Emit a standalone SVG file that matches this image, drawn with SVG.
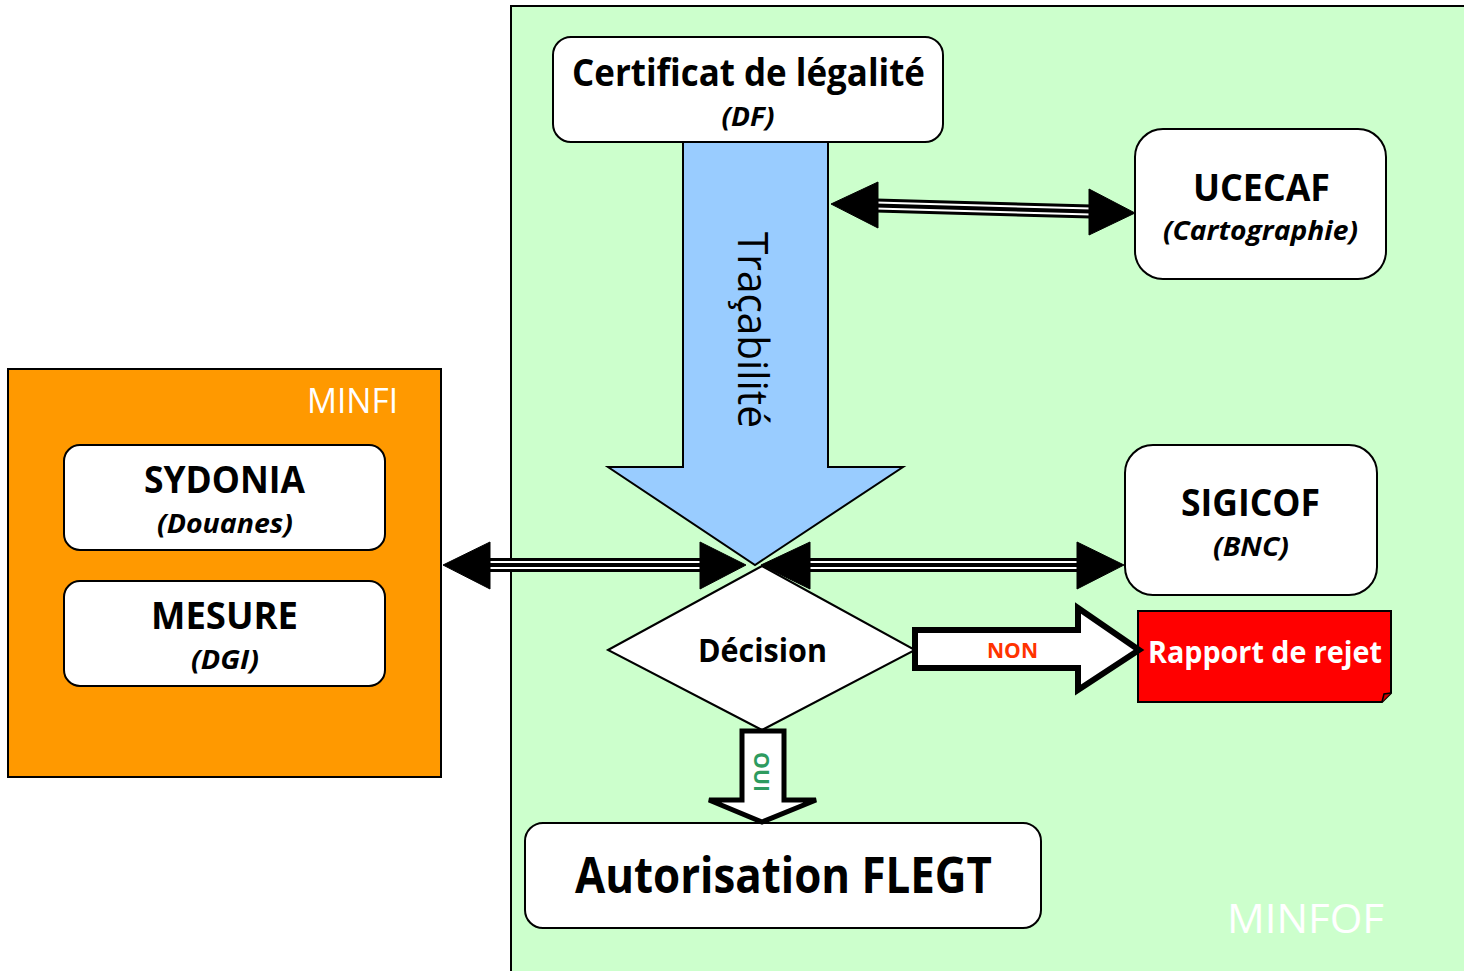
<svg xmlns="http://www.w3.org/2000/svg" width="1464" height="971" viewBox="0 0 1464 971">
<style>
text{font-family:"Open Sans","Noto Sans","Liberation Sans",sans-serif;}
.box{fill:#fff;stroke:#000;stroke-width:2}
.t{font-weight:bold;font-size:38px;fill:#000;text-anchor:middle}
.s{font-weight:bold;font-style:italic;font-size:27px;fill:#000;text-anchor:middle}
.lbl{font-size:40px;fill:#fff;text-anchor:middle}
.c1{stroke:#000;stroke-width:14;fill:none}
.c2{stroke:#fff;stroke-width:8;fill:none}
.c3{stroke:#000;stroke-width:4;fill:none}
.ah{fill:#000;stroke:#000;stroke-width:1}
</style>
<rect x="0" y="0" width="1464" height="971" fill="#fff"/>
<g id="minfof">
<rect x="511" y="6" width="1000" height="1000" fill="#CCFFCC" stroke="#000" stroke-width="2"/>
<text class="lbl" x="1305.5" y="933" textLength="157" lengthAdjust="spacingAndGlyphs">MINFOF</text>
</g>
<g id="minfi">
<rect x="8" y="369" width="433" height="408" fill="#FF9900" stroke="#000" stroke-width="2"/>
<text class="lbl" x="352.5" y="413" style="font-size:35px" textLength="91" lengthAdjust="spacingAndGlyphs">MINFI</text>
</g>
<g id="sydonia">
<rect class="box" x="64" y="445" width="321" height="105" rx="16"/>
<text class="t" x="224.5" y="493" textLength="161" lengthAdjust="spacingAndGlyphs">SYDONIA</text>
<text class="s" x="225" y="533" textLength="136" lengthAdjust="spacingAndGlyphs">(Douanes)</text>
</g>
<g id="mesure">
<rect class="box" x="64" y="581" width="321" height="105" rx="16"/>
<text class="t" x="224.5" y="629" textLength="147" lengthAdjust="spacingAndGlyphs">MESURE</text>
<text class="s" x="225" y="669" textLength="68" lengthAdjust="spacingAndGlyphs">(DGI)</text>
</g>
<g id="certificat">
<rect class="box" x="553" y="37" width="390" height="105" rx="18"/>
<text class="t" x="748.5" y="86" textLength="353" lengthAdjust="spacingAndGlyphs">Certificat de légalité</text>
<text class="s" x="748" y="126" textLength="53" lengthAdjust="spacingAndGlyphs">(DF)</text>
</g>
<g id="tracabilite">
<polygon points="683,142 828,142 828,467 903,467 755,565 608,467 683,467" fill="#99CCFF" stroke="#000" stroke-width="2"/>
<text x="738" y="330" transform="rotate(90 738 330)" font-size="42" fill="#000" text-anchor="middle" textLength="196" lengthAdjust="spacingAndGlyphs">Traçabilité</text>
</g>
<g id="ucecaf">
<rect class="box" x="1135" y="129" width="251" height="150" rx="28"/>
<text class="t" x="1261.5" y="201" textLength="137" lengthAdjust="spacingAndGlyphs">UCECAF</text>
<text class="s" x="1260.5" y="240" textLength="195" lengthAdjust="spacingAndGlyphs">(Cartographie)</text>
</g>
<g id="sigicof">
<rect class="box" x="1125" y="445" width="252" height="150" rx="28"/>
<text class="t" x="1250.5" y="516" textLength="139" lengthAdjust="spacingAndGlyphs">SIGICOF</text>
<text class="s" x="1251" y="556" textLength="76" lengthAdjust="spacingAndGlyphs">(BNC)</text>
</g>
<g id="decision">
<polygon points="608,650 762,566 915,650 762,730" fill="#fff" stroke="#000" stroke-width="2"/>
<text x="762.5" y="662" font-size="32" font-weight="bold" fill="#000" text-anchor="middle" textLength="129" lengthAdjust="spacingAndGlyphs">Décision</text>
</g>
<g id="rapport">
<path d="M1138,611 H1391 V693 L1382,702 H1138 Z" fill="#FF0000" stroke="#000" stroke-width="2"/>
<path d="M1382,702 L1384,694 L1391,693" fill="#CC0000" stroke="#000" stroke-width="1.5"/>
<text x="1265" y="663" font-size="31" font-weight="bold" fill="#fff" text-anchor="middle" textLength="234" lengthAdjust="spacingAndGlyphs">Rapport de rejet</text>
</g>
<g id="autorisation">
<rect class="box" x="525" y="823" width="516" height="105" rx="18"/>
<text x="783.5" y="893" font-size="50" font-weight="bold" fill="#000" text-anchor="middle" textLength="417" lengthAdjust="spacingAndGlyphs">Autorisation FLEGT</text>
</g>
<g id="connectors">
<g>
<line class="c1" x1="488" y1="565" x2="702" y2="565"/>
<line class="c2" x1="488" y1="565" x2="702" y2="565"/>
<line class="c3" x1="488" y1="565" x2="702" y2="565"/>
<polygon class="ah" points="443,565 490,542 490,589"/>
<polygon class="ah" points="746,565 700,542 700,589"/>
</g>
<g>
<line class="c1" x1="808" y1="565" x2="1079" y2="565"/>
<line class="c2" x1="808" y1="565" x2="1079" y2="565"/>
<line class="c3" x1="808" y1="565" x2="1079" y2="565"/>
<polygon class="ah" points="761,565 810,542 810,589"/>
<polygon class="ah" points="1124,565 1077,542 1077,589"/>
</g>
<g>
<line class="c1" x1="876" y1="205.5" x2="1091" y2="211.5"/>
<line class="c2" x1="876" y1="205.5" x2="1091" y2="211.5"/>
<line class="c3" x1="876" y1="205.5" x2="1091" y2="211.5"/>
<polygon class="ah" points="831,204 878,182 878,228"/>
<polygon class="ah" points="1135,213 1089,189 1089,235"/>
</g>
<g id="non">
<polygon points="915,630 1078,630 1078,608 1139,650 1078,690 1078,668 915,668" fill="#fff" stroke="#000" stroke-width="6" stroke-linejoin="miter"/>
<text x="1012.5" y="658" font-size="22" font-weight="bold" fill="#FF3300" text-anchor="middle" textLength="51" lengthAdjust="spacingAndGlyphs">NON</text>
</g>
<g id="oui">
<polygon points="742,731 784,731 784,800 816,800 762,822 709,800 742,800" fill="#fff" stroke="#000" stroke-width="5"/>
<text x="754" y="772" transform="rotate(90 754 772)" font-size="21" font-weight="bold" fill="#2E9B5F" text-anchor="middle" textLength="40" lengthAdjust="spacingAndGlyphs">OUI</text>
</g>
</g>
</svg>
